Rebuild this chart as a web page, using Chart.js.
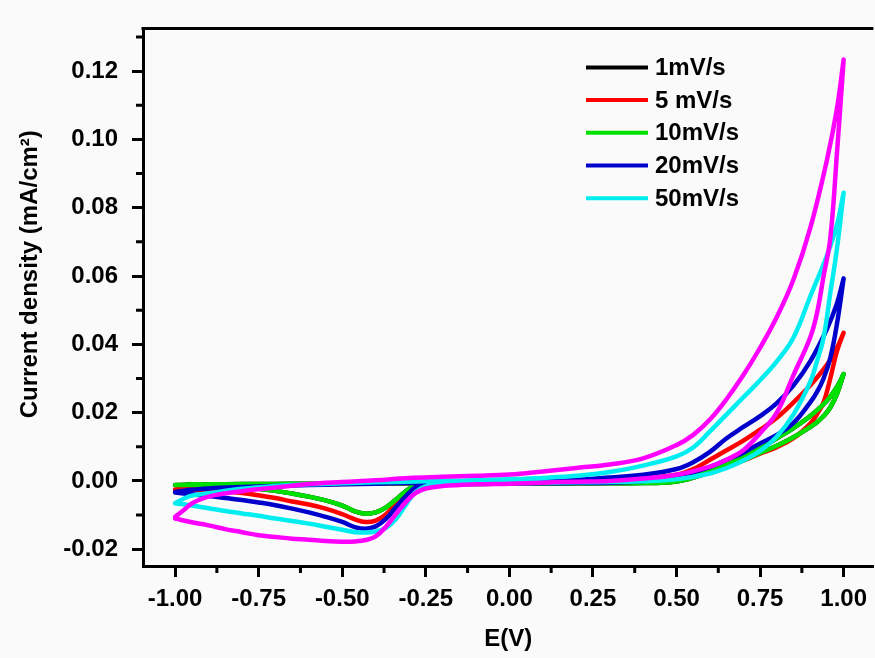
<!DOCTYPE html>
<html>
<head>
<meta charset="utf-8">
<script src="https://cdn.jsdelivr.net/npm/chart.js@4.4.0/dist/chart.umd.min.js"></script>
<style>
  html, body { margin: 0; padding: 0; background: #fafafa; }
  #wrap { width: 875px; height: 658px; position: relative; }
</style>
</head>
<body>
<div id="wrap"><canvas id="cv"></canvas></div>
<script>
// scan rates (the 100 mV/s loop is drawn but has no legend entry)
var rates = ["1mV/s", "5 mV/s", "10mV/s", "20mV/s", "50mV/s", "100mV/s"];
var colors = ["#000000", "#ff0000", "#00e000", "#0000cc", "#00eef0", "#ff00ff"];

var xTicks = [-1.00, -0.75, -0.50, -0.25, 0.00, 0.25, 0.50, 0.75, 1.00];
var yTicks = [-0.02, 0.00, 0.02, 0.04, 0.06, 0.08, 0.10, 0.12];

// potentials of the forward (anodic) and reverse (cathodic) scans, V
var fwdE = [-1.0, -0.97, -0.95, -0.9, -0.8, -0.7, -0.6, -0.5, -0.4, -0.3, -0.2, -0.1, 0.0, 0.1, 0.2,
            0.3, 0.4, 0.5, 0.55, 0.6, 0.65, 0.7, 0.75, 0.8, 0.85, 0.9, 0.95, 0.98, 1.0];
var revE = [1.0, 0.98, 0.96, 0.94, 0.92, 0.9, 0.85, 0.8, 0.75, 0.7, 0.65, 0.6, 0.5, 0.4, 0.3, 0.2, 0.1,
            0.0, -0.1, -0.2, -0.25, -0.28, -0.31, -0.34, -0.37, -0.4, -0.43, -0.46, -0.5, -0.55, -0.6,
            -0.65, -0.7, -0.75, -0.8, -0.85, -0.9, -0.95, -1.0];

// current density, mA/cm2
var fwd1 = [-0.0012, -0.0011, -0.001, -0.001, -0.0009, -0.0009, -0.0008, -0.0008, -0.0007, -0.0007, -0.0006,
            -0.0006, -0.0005, -0.0005, -0.0004, -0.0003, -0.0002, 0.0003, 0.0015, 0.0032, 0.005, 0.007,
            0.0095, 0.0125, 0.0155, 0.019, 0.0235, 0.0275, 0.0313];
var rev1 = [0.0313, 0.0255, 0.0215, 0.019, 0.0172, 0.0158, 0.0128, 0.0103, 0.0082, 0.006, 0.0043, 0.0025,
            -0.0002, -0.0006, -0.0007, -0.0007, -0.0008, -0.0008, -0.0009, -0.0009, -0.001, -0.0012, -0.003,
            -0.0055, -0.0078, -0.0092, -0.0096, -0.009, -0.0072, -0.0057, -0.0046, -0.0037, -0.0029,
            -0.0023, -0.0018, -0.0015, -0.0013, -0.0012, -0.0012];

var fwd5 = [-0.0025, -0.0022, -0.002, -0.0017, -0.0014, -0.0012, -0.001, -0.0009, -0.0008, -0.0007, -0.0006,
            -0.0005, -0.0004, -0.0002, 0.0, 0.0003, 0.0008, 0.0018, 0.0035, 0.0062, 0.009, 0.0118,
            0.015, 0.0185, 0.023, 0.028, 0.034, 0.039, 0.0434];
var rev5 = [0.0434, 0.038, 0.030, 0.023, 0.0195, 0.0168, 0.0125, 0.0099, 0.008, 0.006, 0.0043, 0.0028,
            0.0008, -0.0002, -0.0005, -0.0006, -0.0007, -0.0007, -0.0008, -0.0008, -0.0009, -0.0014, -0.0035,
            -0.0067, -0.0098, -0.0116, -0.012, -0.0113, -0.0097, -0.0081, -0.0069, -0.006, -0.005,
            -0.0042, -0.0035, -0.003, -0.0028, -0.0026, -0.0025];

var fwd10 = fwd1.slice();
var rev10 = rev1.slice();

var fwd20 = [-0.0032, -0.0028, -0.0026, -0.0022, -0.0018, -0.0015, -0.0012, -0.001, -0.0008, -0.0006, -0.0004,
             -0.0003, -0.0002, 0.0, 0.0003, 0.001, 0.0018, 0.0035, 0.0055, 0.0085, 0.0125, 0.0158,
             0.019, 0.0228, 0.028, 0.035, 0.0445, 0.052, 0.0593];
var rev20 = [0.0593, 0.046, 0.036, 0.030, 0.026, 0.023, 0.017, 0.0135, 0.011, 0.0083, 0.0062, 0.0041,
             0.0013, 0.0, -0.0005, -0.0006, -0.0007, -0.0007, -0.0008, -0.0009, -0.001, -0.0018, -0.0045,
             -0.0078, -0.0112, -0.0133, -0.014, -0.0136, -0.012, -0.0105, -0.0092, -0.0081, -0.0071,
             -0.0063, -0.0056, -0.005, -0.0044, -0.0039, -0.0034];

var fwd50 = [-0.0065, -0.005, -0.0043, -0.0036, -0.0023, -0.0015, -0.001, -0.0007, -0.0004, -0.0002, 0.0,
             0.0002, 0.0005, 0.0009, 0.0015, 0.0026, 0.0045, 0.0072, 0.0098, 0.0145, 0.0195, 0.0245,
             0.0295, 0.035, 0.042, 0.054, 0.066, 0.075, 0.0844];
var rev50 = [0.0844, 0.068, 0.055, 0.042, 0.035, 0.029, 0.0195, 0.013, 0.0088, 0.006, 0.0038, 0.0022,
             0.0005, -0.0001, -0.0003, -0.0004, -0.0005, -0.0006, -0.0007, -0.001, -0.0015, -0.0032, -0.007,
             -0.0112, -0.0138, -0.0148, -0.0151, -0.015, -0.0143, -0.0134, -0.0125, -0.0117, -0.011,
             -0.0102, -0.0095, -0.0088, -0.008, -0.0072, -0.0065];

var fwd100 = [-0.0105, -0.0082, -0.0066, -0.0046, -0.003, -0.0019, -0.0009, -0.0003, 0.0002, 0.0009, 0.0012,
              0.0015, 0.0019, 0.0028, 0.0038, 0.0048, 0.0066, 0.0105, 0.0135, 0.018, 0.024, 0.031,
              0.039, 0.048, 0.059, 0.074, 0.094, 0.109, 0.1234];
var rev100 = [0.1234, 0.096, 0.071, 0.060, 0.049, 0.042, 0.031, 0.020, 0.014, 0.009, 0.0062, 0.0042,
              0.0018, 0.0007, 0.0, -0.0002, -0.0005, -0.0008, -0.001, -0.0015, -0.0022, -0.0035, -0.0062,
              -0.0098, -0.0135, -0.0162, -0.0173, -0.0177, -0.0178, -0.0176, -0.0172, -0.0169, -0.0164,
              -0.0159, -0.015, -0.0141, -0.013, -0.0121, -0.011];

var FONT = "'Liberation Sans', Arial, sans-serif";

function loop(fwd, rev) {
  var pts = fwdE.map(function (e, i) { return { x: e, y: fwd[i] }; });
  return pts.concat(revE.map(function (e, i) { return { x: e, y: rev[i] }; }));
}

var curves = [[fwd1, rev1], [fwd5, rev5], [fwd10, rev10], [fwd20, rev20], [fwd50, rev50], [fwd100, rev100]];
var datasets = curves.map(function (c, i) {
  return {
    label: rates[i],
    data: loop(c[0], c[1]),
    borderColor: colors[i],
    borderWidth: 4.5,
    pointRadius: 0,
    tension: 0.4,
    fill: false,
    borderJoinStyle: "round",
    borderCapStyle: "round",
    order: curves.length - 1 - i
  };
});

// minor ticks, top frame line, y title and the in-plot legend
var extras = {
  id: "extras",
  afterDraw: function (chart) {
    var ctx = chart.ctx, area = chart.chartArea;
    var xs = chart.scales.x, ys = chart.scales.y;
    ctx.save();
    ctx.strokeStyle = "#000";
    ctx.lineWidth = 3;
    ctx.beginPath();
    ctx.moveTo(area.left - 1.5, area.top);
    ctx.lineTo(area.right, area.top);
    ctx.stroke();

    var i, p;
    ctx.beginPath();
    for (i = 0; i < xTicks.length - 1; i++) {
      p = xs.getPixelForValue((xTicks[i] + xTicks[i + 1]) / 2);
      ctx.moveTo(p, area.bottom);
      ctx.lineTo(p, area.bottom + 7);
    }
    var ystep = yTicks[1] - yTicks[0];
    for (i = 0; i < yTicks.length; i++) {
      var v = yTicks[i] + ystep / 2;
      if (v > ys.max) continue;
      p = ys.getPixelForValue(v);
      ctx.moveTo(area.left, p);
      ctx.lineTo(area.left - 7, p);
    }
    ctx.stroke();

    ctx.fillStyle = "#000";
    ctx.font = "bold 24px " + FONT;
    ctx.textBaseline = "middle";
    ctx.save();
    ctx.translate(30, (area.top + area.bottom) / 2 - 23);
    ctx.rotate(-Math.PI / 2);
    ctx.textAlign = "center";
    ctx.fillText("Current density (mA/cm\u00b2)", 0, 0);
    ctx.restore();

    ctx.textAlign = "left";
    ctx.lineWidth = 4;
    for (i = 0; i < 5; i++) {
      var y = area.top + 39 + i * 32.7;
      ctx.strokeStyle = colors[i];
      ctx.beginPath();
      ctx.moveTo(586, y);
      ctx.lineTo(648, y);
      ctx.stroke();
      ctx.fillText(rates[i], 655, y + 1);
    }
    ctx.restore();
  }
};

new Chart(document.getElementById("cv"), {
  type: "line",
  data: { datasets: datasets },
  plugins: [extras],
  options: {
    responsive: true,
    maintainAspectRatio: false,
    animation: false,
    layout: { padding: { top: 22, right: 0, left: 0, bottom: 0 } },
    plugins: { legend: { display: false }, tooltip: { enabled: false } },
    scales: {
      x: {
        type: "linear",
        min: -1.096,
        max: 1.089,
        afterBuildTicks: function (s) { s.ticks = xTicks.map(function (v) { return { value: v }; }); },
        afterFit: function (s) { s.height = 92; },
        border: { display: true, width: 3, color: "#000" },
        grid: { drawOnChartArea: false, drawTicks: true, tickLength: 11, tickWidth: 3, tickColor: "#000" },
        ticks: {
          autoSkip: false, maxRotation: 0, padding: 8, color: "#000",
          font: { family: FONT, size: 24, weight: "bold" },
          callback: function (v) { return v.toFixed(2); }
        },
        title: {
          display: true, text: "E(V)", color: "#000",
          font: { family: FONT, size: 24, weight: "bold" },
          padding: { top: 0, bottom: 4 }
        }
      },
      y: {
        type: "linear",
        min: -0.0249,
        max: 0.1325,
        afterBuildTicks: function (s) { s.ticks = yTicks.map(function (v) { return { value: v }; }); },
        afterFit: function (s) { s.width = 143; },
        border: { display: true, width: 3, color: "#000" },
        grid: { drawOnChartArea: false, drawTicks: true, tickLength: 11, tickWidth: 3, tickColor: "#000" },
        ticks: {
          autoSkip: false, padding: 14, color: "#000",
          font: { family: FONT, size: 24, weight: "bold" },
          callback: function (v) { return v.toFixed(2); }
        }
      }
    }
  }
});
</script>
</body>
</html>
